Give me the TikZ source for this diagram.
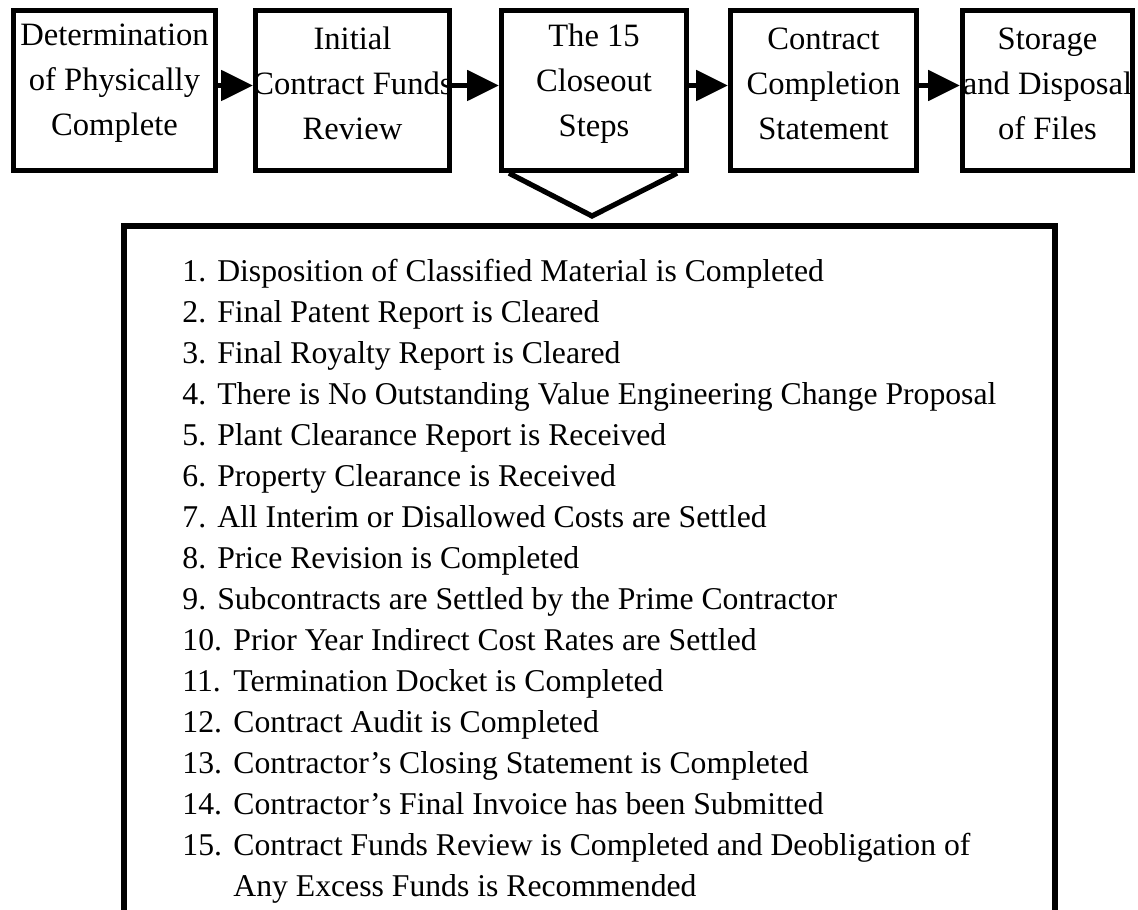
\documentclass[tikz,border=0pt]{standalone}
\usepackage{fontspec}
\setmainfont{Liberation Serif}
\usetikzlibrary{arrows.meta}
\begin{document}
\begin{tikzpicture}[x=0.5pt,y=-0.5pt,
  stagebox/.style={draw, line width=2.7pt, inner sep=0pt, minimum height=80pt},
  stagetext/.style={inner sep=0pt, align=center, font=\fontsize{16.3}{22.5}\selectfont},
  flow/.style={line width=2.6pt, -{Triangle[length=16pt,width=15pt]}},
  frame/.style={line width=2.6pt, line join=miter},
  listtext/.style={anchor=base west, inner sep=0pt, font=\fontsize{15.85}{20.5}\selectfont}]
\useasboundingbox (0,0) rectangle (1138,909);
% stages
\node[stagebox, minimum width=100.8pt] (b1) at (114.5,90.5) {};
\node[stagebox, minimum width=96.8pt] (b2) at (352.5,90.5) {};
\node[stagebox, minimum width=92.3pt] (b3) at (594,90.5) {};
\node[stagebox, minimum width=92.8pt] (b4) at (823.5,90.5) {};
\node[stagebox, minimum width=84.8pt] (b5) at (1047.5,90.5) {};
\node[stagetext] (t1) at ([yshift=3.5pt]b1.center) {Determination\\of Physically\\Complete};
\node[stagetext] (t2) at ([yshift=3.5pt]b2.center) {Initial\\Contract Funds\\Review};
\node[stagetext] (t3) at ([yshift=3.5pt]b3.center) {The 15\\Closeout\\Steps};
\node[stagetext] (t4) at ([yshift=3.5pt]b4.center) {Contract\\Completion\\Statement};
\node[stagetext] (t5) at ([yshift=3.5pt]b5.center) {Storage\\and Disposal\\of Files};
% arrows
\draw[flow] ([yshift=2.5pt]b1.east) -- ([yshift=2.5pt]b2.west);
\draw[flow] ([yshift=2.5pt]b2.east) -- ([yshift=2.5pt]b3.west);
\draw[flow] ([yshift=2.5pt]b3.east) -- ([yshift=2.5pt]b4.west);
\draw[flow] ([yshift=2.5pt]b4.east) -- ([yshift=2.5pt]b5.west);
% callout pointer
\coordinate (apex) at (592,216);
\draw[frame] ([xshift=5pt]b3.south west) -- (apex) -- ([xshift=-6pt]b3.south east);
% big box (open at the bottom)
\coordinate (fbl) at (124,912);
\coordinate (ftl) at (124,226);
\coordinate (ftr) at (1055,226);
\coordinate (fbr) at (1055,912);
\draw[frame] (fbl) -- (ftl) -- (ftr) -- (fbr);
% list
\foreach \w/\n/\t [count=\k] in {
 1.1/1./Disposition of Classified Material is Completed,
 1.1/2./Final Patent Report is Cleared,
 1.1/3./Final Royalty Report is Cleared,
 1.1/4./There is No Outstanding Value Engineering Change Proposal,
 1.1/5./Plant Clearance Report is Received,
 1.1/6./Property Clearance is Received,
 1.1/7./All Interim or Disallowed Costs are Settled,
 1.1/8./Price Revision is Completed,
 1.1/9./Subcontracts are Settled by the Prime Contractor,
 1.61/10./Prior Year Indirect Cost Rates are Settled,
 1.61/11./Termination Docket is Completed,
 1.61/12./Contract Audit is Completed,
 1.61/13./Contractor's Closing Statement is Completed,
 1.61/14./Contractor's Final Invoice has been Submitted,
 1.61/15./Contract Funds Review is Completed and Deobligation of,
 1.61//Any Excess Funds is Recommended}
 {\node[listtext] (s\k) at (182,{281+41*(\k-1)}) {\makebox[\w em][l]{\n}\t};}
\end{tikzpicture}
\end{document}
